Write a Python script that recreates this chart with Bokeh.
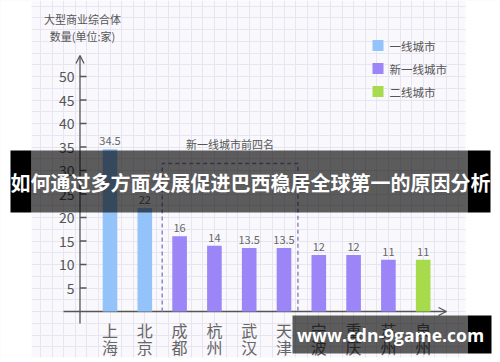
from bokeh.plotting import figure
from bokeh.models import Range1d, Grid, SingleIntervalTicker, Arrow, OpenHead, ColumnDataSource
from bokeh.core.properties import value
from bokeh.embed import file_html
from bokeh.resources import INLINE

# ---------------- data ----------------
cities = ["上海", "北京", "成都", "杭州", "武汉", "天津", "宁波", "重庆", "苏州", "泉州"]
counts = [34.5, 22, 16, 14, 13.5, 13.5, 12, 12, 11, 11]
tiers = ["一线城市", "一线城市", "新一线城市", "新一线城市", "新一线城市", "新一线城市",
         "新一线城市", "新一线城市", "新一线城市", "二线城市"]
tier_names = ["一线城市", "新一线城市", "二线城市"]
tier_colors = ["#93C3F8", "#9B85F7", "#A7DB4B"]
y_ticks = [5, 10, 15, 20, 25, 30, 35, 40, 45, 50]
y_title_lines = ["大型商业综合体", "数量(单位:家)"]
box_label = "新一线城市前四名"
box_span = (1.5, 5.4)          # between 北京|成都 and 天津|宁波
banner_text = "如何通过多方面发展促进巴西稳居全球第一的原因分析"
watermark_text = "www.cdn-9game.com"

# ---------------- layout helpers (page pixel -> data) ----------------
W, H = 500, 362
def xd(px):
    return (px - 109.5) / 34.8
def yd(py):
    return (311.0 - py) / 4.7

FONT = value("Noto Sans CJK SC")
AX = "#555555"

p = figure(width=W, height=H,
           x_range=Range1d(xd(0), xd(W)), y_range=Range1d(yd(H), yd(0)),
           x_axis_type=None, y_axis_type=None,
           toolbar_location=None, output_backend="svg", min_border=0,
           outline_line_color=None, background_fill_color="#F9F8FC",
           border_fill_color="white")

# decorative grid paper
p.add_layout(Grid(dimension=0, ticker=SingleIntervalTicker(interval=1 / 3),
                  grid_line_color="#E8E5F1", grid_line_width=1))
p.add_layout(Grid(dimension=1, ticker=SingleIntervalTicker(interval=2.5),
                  grid_line_color="#E8E5F1", grid_line_width=1))

# white page margins outside the grid paper
p.quad(left=[xd(0), xd(465)], right=[xd(31), xd(W)],
       bottom=yd(H), top=yd(0), fill_color="white", line_color=None)
p.quad(left=[xd(31)], right=[xd(465)], bottom=yd(H), top=yd(357),
       fill_color="white", line_color=None)

# axes with arrows
p.add_layout(Arrow(x_start=xd(79.5), y_start=yd(323), x_end=xd(79.5), y_end=yd(55),
                   end=OpenHead(size=8, line_color=AX, line_width=1.3),
                   line_color=AX, line_width=1.3, level="underlay"))
p.add_layout(Arrow(x_start=xd(63), y_start=0, x_end=xd(446), y_end=0,
                   end=OpenHead(size=8, line_color=AX, line_width=1.3),
                   line_color=AX, line_width=1.3, level="underlay"))

# y ticks and labels
p.segment(x0=xd(79.5), x1=xd(86), y0=y_ticks, y1=y_ticks, line_color=AX, line_width=1.3)
p.text(x=xd(74), y=y_ticks, text=[str(t) for t in y_ticks], text_align="right",
       text_baseline="middle", text_font=FONT, text_font_size="14px", text_color=AX)

# y title (two lines)
p.text(x=xd(82), y=[yd(18), yd(35)], text=y_title_lines, text_align="center",
       text_baseline="middle", text_font=FONT, text_font_size="11px", text_color=AX)

# bars
idx = list(range(len(cities)))
src = ColumnDataSource(dict(
    x=idx, top=counts,
    color=[tier_colors[tier_names.index(t)] for t in tiers],
    label=[f"{c:g}" for c in counts],
    c1=[c[0] for c in cities],
    c2=[c[1] for c in cities],
))
p.vbar(x="x", top="top", bottom=0, width=0.42, fill_color="color", line_color=None, source=src)
p.text(x="x", y="top", text="label", y_offset=-4, text_align="center", text_baseline="bottom",
       text_font=FONT, text_font_size="11px", text_color="#666666", source=src)
# vertical two-character city labels
p.text(x="x", y=yd(329), text="c1", text_align="center", text_baseline="middle",
       text_font=FONT, text_font_size="16px", text_color="#666666", source=src)
p.text(x="x", y=yd(346), text="c2", text_align="center", text_baseline="middle",
       text_font=FONT, text_font_size="16px", text_color="#666666", source=src)

# dashed box around the top four new first-tier cities
box_top = yd(163)
p.line(x=[box_span[0], box_span[0], box_span[1], box_span[1]],
       y=[0, box_top, box_top, 0], line_color="#8F89BE", line_width=1.5, line_dash="4 3")
p.text(x=[(box_span[0] + box_span[1]) / 2], y=[yd(143)], text=[box_label], text_align="center",
       text_baseline="middle", text_font=FONT, text_font_size="11px", text_color=AX)

# legend
leg_y = [yd(45), yd(68), yd(91)]
p.scatter(x=xd(377.5), y=leg_y, marker="square", size=11, fill_color=tier_colors, line_color=None)
p.text(x=xd(389), y=leg_y, text=tier_names, text_align="left", text_baseline="middle",
       text_font=FONT, text_font_size="11.5px", text_color=AX)

# title banner overlay
b_bot, b_top = yd(212), yd(150)
p.quad(left=[xd(10), xd(467)], right=[xd(31), xd(490)], bottom=b_bot, top=b_top,
       fill_color="black", line_color=None)
p.quad(left=[xd(31)], right=[xd(467)], bottom=b_bot, top=b_top,
       fill_color="black", fill_alpha=0.63, line_color=None)
p.text(x=[xd(250)], y=[yd(182)], text=[banner_text], text_align="center", text_baseline="middle",
       text_font=FONT, text_font_size="20px", text_font_style="bold", text_color="white")

# watermark overlay
w_bot, w_top = yd(353), yd(315)
p.quad(left=[xd(292)], right=[xd(467)], bottom=w_bot, top=w_top,
       fill_color="black", fill_alpha=0.63, line_color=None)
p.quad(left=[xd(467)], right=[xd(491)], bottom=w_bot, top=w_top,
       fill_color="black", line_color=None)
p.text(x=[xd(390)], y=[yd(334)], text=[watermark_text], text_align="center", text_baseline="middle",
       text_font=value("Open Sans"), text_font_size="17.5px", text_font_style="bold",
       text_color="white")

open("out.html", "w").write(file_html(p, INLINE))
